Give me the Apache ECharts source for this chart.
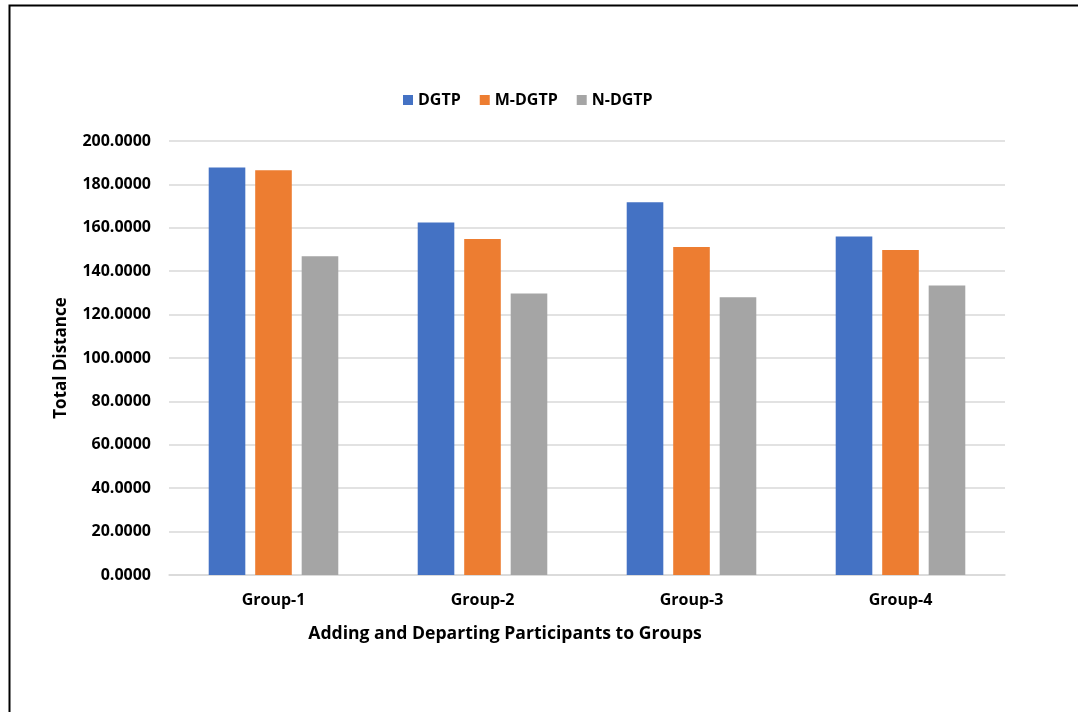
<!DOCTYPE html>
<html>
<head>
<meta charset="utf-8">
<script src="https://cdn.jsdelivr.net/npm/echarts@6/dist/echarts.min.js"></script>
<style>
html,body{margin:0;padding:0;background:#fff;}
#c{width:1078px;height:712px;}
</style>
</head>
<body>
<div id="c"></div>
<script>
var categories = ['Group-1', 'Group-2', 'Group-3', 'Group-4'];
var seriesNames = ['DGTP', 'M-DGTP', 'N-DGTP'];
var dgtp = [187.8, 162.5, 171.8, 156.0];
var mdgtp = [186.5, 154.8, 151.1, 149.8];
var ndgtp = [146.9, 129.7, 128.0, 133.4];
var colors = ['#4472C4', '#ED7D31', '#A5A5A5'];
var xAxisTitle = 'Adding and Departing Participants to Groups';
var yAxisTitle = 'Total Distance';

var FONT = '"Open Sans", "Liberation Sans", sans-serif';
var chart = echarts.init(document.getElementById('c'), null, {renderer: 'canvas'});
var values = [dgtp, mdgtp, ndgtp];
var series = seriesNames.map(function (n, i) {
  return {
    name: n,
    type: 'bar',
    data: values[i],
    barGap: '27%',
    barCategoryGap: '38%',
    itemStyle: {color: colors[i]}
  };
});
chart.setOption({
  animation: false,
  backgroundColor: '#ffffff',
  color: colors,
  legend: {
    left: 398,
    top: 87,
    itemWidth: 10,
    itemHeight: 10,
    itemGap: 19,
    icon: 'rect',
    textStyle: {fontFamily: FONT, fontWeight: 'bold', fontSize: 16, color: '#000'},
    data: seriesNames
  },
  grid: {left: 169, right: 73, top: 141, bottom: 137, containLabel: false},
  xAxis: {
    type: 'category',
    data: categories,
    axisLine: {lineStyle: {color: '#d9d9d9', width: 1.5}},
    axisTick: {show: false},
    axisLabel: {fontFamily: FONT, fontWeight: 'bold', fontSize: 16, color: '#000', margin: 17}
  },
  yAxis: {
    type: 'value',
    min: 0,
    max: 200,
    interval: 20,
    axisLine: {show: false},
    axisTick: {show: false},
    splitLine: {lineStyle: {color: '#d9d9d9', width: 1.5}},
    axisLabel: {
      fontFamily: FONT, fontWeight: 'bold', fontSize: 16, color: '#000', margin: 18,
      formatter: function (v) { return v.toFixed(4); }
    }
  },
  graphic: [
    {type: 'rect', left: 7, top: 3, shape: {width: 1200, height: 800},
     style: {fill: 'none', stroke: '#000', lineWidth: 2}, silent: true, z: 100},
    {type: 'text', x: 505, y: 634,
     style: {text: xAxisTitle, fontFamily: FONT, fontWeight: 'bold', fontSize: 17.6, fill: '#000',
             align: 'center', verticalAlign: 'middle'}},
    {type: 'text', x: 61, y: 358, rotation: Math.PI / 2,
     style: {text: yAxisTitle, fontFamily: FONT, fontWeight: 'bold', fontSize: 17, fill: '#000',
             align: 'center', verticalAlign: 'middle'}}
  ],
  series: series
});
</script>
</body>
</html>
